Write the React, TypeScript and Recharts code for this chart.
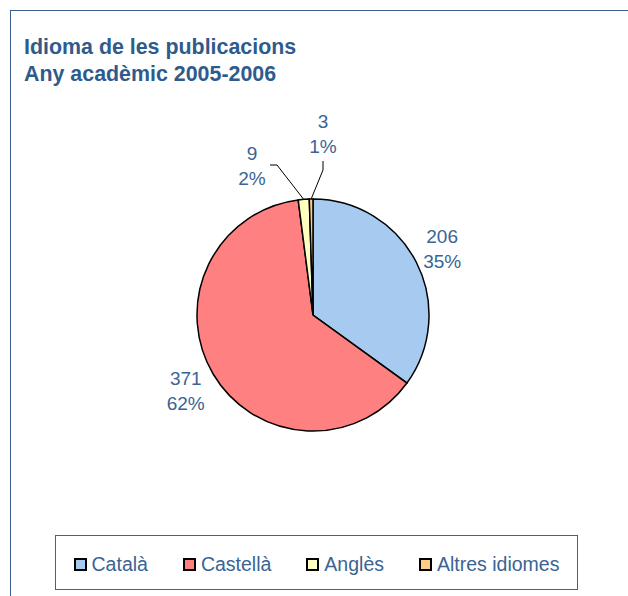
import React from 'react';
import { PieChart, Pie, Cell, Legend } from 'recharts';

const categories = ['Català', 'Castellà', 'Anglès', 'Altres idiomes'];
const values = [206, 371, 9, 3];
const percentLabels = ['35%', '62%', '2%', '1%'];
const colors = ['#A6CAF0', '#FF8080', '#FFFFC0', '#FFCC88'];

const data = categories.map((name, i) => ({ name, value: values[i], pct: percentLabels[i] }));

const TEXT = '#3A6494';
const FONT = 'Arial, "Liberation Sans", Helvetica, sans-serif';
const RAD = Math.PI / 180;

const renderLabel = (props: any) => {
  const { cx, cy, midAngle, outerRadius, index } = props;
  const v = values[index];
  const p = percentLabels[index];
  const lines = (x: number, c: number) => (
    <text x={x} textAnchor="middle" fill={TEXT} fontSize={19} fontFamily={FONT}>
      <tspan x={x} y={c - 12.5 + 6.8}>{v}</tspan>
      <tspan x={x} y={c + 12.5 + 6.8}>{p}</tspan>
    </text>
  );
  if (index < 2) {
    const r = outerRadius + (index === 0 ? 29 : 32);
    const x = cx + r * Math.cos(-midAngle * RAD);
    const y = cy + r * Math.sin(-midAngle * RAD);
    return <g key={`l${index}`}>{lines(x, y)}</g>;
  }
  const ex = cx + outerRadius * Math.cos(-midAngle * RAD);
  const ey = cy + outerRadius * Math.sin(-midAngle * RAD);
  if (index === 2) {
    const bx = cx - 36;
    const by = cy - 150;
    return (
      <g key={`l${index}`}>
        <polyline points={`${ex},${ey} ${bx},${by} ${bx - 7},${by}`} fill="none" stroke="#000" strokeWidth={1} />
        {lines(bx - 25, by + 0.5)}
      </g>
    );
  }
  const bx = cx + 10;
  const by = cy - 145;
  return (
    <g key={`l${index}`}>
      <polyline points={`${ex},${ey} ${bx},${by} ${bx},${by - 9}`} fill="none" stroke="#000" strokeWidth={1} />
      {lines(bx, cy - 181)}
    </g>
  );
};

const LegendContent = () => (
  <div
    style={{
      width: 523,
      height: 55,
      boxSizing: 'border-box',
      border: '1.5px solid #3E6391',
      display: 'flex',
      alignItems: 'center',
      justifyContent: 'center',
      gap: 35,
      fontFamily: FONT,
      fontSize: 19.5,
      color: TEXT,
      background: '#fff',
      paddingTop: 3,
    }}
  >
    {categories.map((c, i) => (
      <div key={c} style={{ display: 'flex', alignItems: 'center' }}>
        <span
          style={{
            display: 'inline-block',
            width: 13,
            height: 13,
            boxSizing: 'border-box',
            border: '2px solid #000',
            background: colors[i],
            marginRight: 5,
          }}
        />
        <span style={{ lineHeight: '22px' }}>{c}</span>
      </div>
    ))}
  </div>
);

export default function App() {
  return (
    <div style={{ position: 'absolute', left: 0, top: 0, width: 628, height: 596, background: '#fff', overflow: 'hidden' }}>
      <div
        style={{
          position: 'absolute',
          left: 10,
          top: 10,
          width: 640,
          height: 640,
          borderLeft: '1.5px solid #3A5F8F',
          borderTop: '1.5px solid #3A5F8F',
        }}
      />
      <div
        style={{
          position: 'absolute',
          left: 24,
          top: 34,
          fontFamily: FONT,
          fontWeight: 'bold',
          fontSize: 21.4,
          lineHeight: '27px',
          color: '#2F5B8C',
          whiteSpace: 'nowrap',
        }}
      >
        <div>Idioma de les publicacions</div>
        <div>Any acadèmic 2005-2006</div>
      </div>
      <div style={{ position: 'absolute', left: 0, top: 0 }}>
        <PieChart width={628} height={596} margin={{ top: 0, right: 0, bottom: 0, left: 0 }}>
          <Pie
            data={data}
            dataKey="value"
            nameKey="name"
            cx={313}
            cy={315}
            outerRadius={116}
            startAngle={90}
            endAngle={-270}
            stroke="#000"
            strokeWidth={1.5}
            label={renderLabel}
            labelLine={false}
            isAnimationActive={false}
          >
            {data.map((d, i) => (
              <Cell key={d.name} fill={colors[i]} />
            ))}
          </Pie>
          <Legend
            content={<LegendContent />}
            wrapperStyle={{ position: 'absolute', left: 55, top: 535, width: 523, height: 55 }}
          />
        </PieChart>
      </div>
    </div>
  );
}
